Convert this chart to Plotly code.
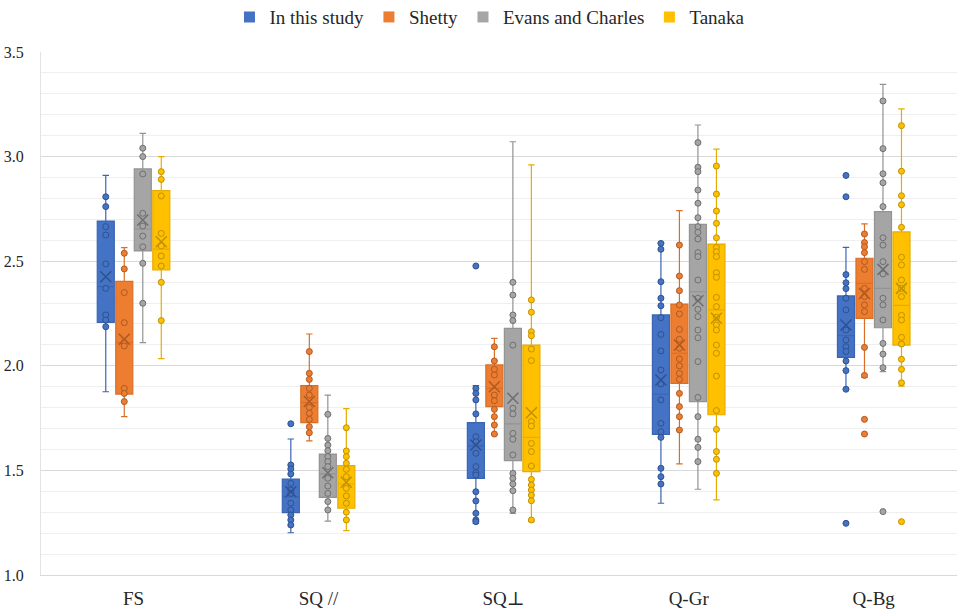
import plotly.graph_objects as go

categories = ["FS", "SQ //", "SQ\u22a5", "Q-Gr", "Q-Bg"]
series_names = ["In this study", "Shetty", "Evans and Charles", "Tanaka"]

# ---- In this study ----
study_upper = [2.910, 1.650, 1.905, 2.589, 2.566]
study_q3 = [2.692, 1.459, 1.728, 2.243, 2.334]
study_median = [2.378, 1.374, 1.617, 1.864, 2.144]
study_q1 = [2.208, 1.298, 1.462, 1.672, 2.040]
study_lower = [1.876, 1.202, 1.247, 1.343, 1.888]
study_mean = [2.426, 1.398, 1.621, 1.932, 2.195]
study_points = [
    [2.808, 2.761, 2.665, 2.625, 2.487, 2.370, 2.243, 2.219, 2.187],
    [1.723, 1.526, 1.507, 1.483, 1.438, 1.406, 1.390, 1.343, 1.311, 1.287, 1.263, 1.239],
    [2.477, 1.892, 1.868, 1.837, 1.770, 1.661, 1.637, 1.582, 1.518, 1.489, 1.478, 1.398, 1.354, 1.295, 1.263, 1.255],
    [2.585, 2.557, 2.402, 2.323, 2.287, 2.230, 2.150, 2.071, 1.980, 1.913, 1.837, 1.725, 1.685, 1.658, 1.510, 1.470, 1.435],
    [2.910, 2.808, 2.436, 2.397, 2.369, 2.323, 2.267, 2.171, 2.123, 2.091, 2.068, 2.023, 1.977, 1.888, 1.247],
]

# ---- Shetty ----
shetty_upper = [2.565, 2.152, 2.131, 2.742, 2.678]
shetty_q3 = [2.404, 1.905, 2.004, 2.295, 2.514]
shetty_median = [2.111, 1.824, 1.892, 2.060, 2.394]
shetty_q1 = [1.865, 1.728, 1.805, 1.916, 2.227]
shetty_lower = [1.757, 1.641, 1.670, 1.531, 1.945]
shetty_mean = [2.127, 1.829, 1.900, 2.099, 2.346]
shetty_points = [
    [2.538, 2.463, 2.350, 2.206, 2.111, 2.095, 1.892, 1.868, 1.829],
    [2.068, 1.964, 1.935, 1.892, 1.860, 1.801, 1.773, 1.744, 1.709, 1.680],
    [2.091, 2.023, 1.983, 1.956, 1.860, 1.833, 1.792, 1.757, 1.717, 1.674],
    [2.577, 2.429, 2.359, 2.291, 2.248, 2.174, 2.127, 2.084, 2.033, 2.000, 1.964, 1.935, 1.868, 1.805, 1.757, 1.693],
    [2.630, 2.589, 2.569, 2.541, 2.498, 2.461, 2.370, 2.331, 2.291, 2.259, 2.088, 1.954, 1.744, 1.674],
]

# ---- Evans and Charles ----
evans_upper = [3.111, 1.860, 3.071, 3.151, 3.345]
evans_q3 = [2.941, 1.578, 2.179, 2.676, 2.737]
evans_median = [2.654, 1.483, 1.722, 2.354, 2.370]
evans_q1 = [2.549, 1.371, 1.547, 1.829, 2.182]
evans_lower = [2.111, 1.258, 1.295, 1.410, 1.972]
evans_mean = [2.697, 1.489, 1.845, 2.311, 2.461]
evans_points = [
    [3.040, 3.000, 2.917, 2.729, 2.668, 2.620, 2.569, 2.490, 2.299],
    [1.768, 1.653, 1.621, 1.594, 1.566, 1.542, 1.518, 1.462, 1.425, 1.390, 1.351, 1.311],
    [2.399, 2.338, 2.243, 2.216, 2.099, 1.797, 1.770, 1.677, 1.649, 1.574, 1.486, 1.462, 1.435, 1.403, 1.311],
    [3.067, 2.949, 2.928, 2.840, 2.777, 2.708, 2.665, 2.638, 2.606, 2.541, 2.522, 2.410, 2.323, 2.270,
     2.235, 2.171, 2.134, 2.020, 1.849, 1.757, 1.649, 1.610, 1.542],
    [3.266, 3.038, 2.918, 2.875, 2.761, 2.612, 2.577, 2.498, 2.439, 2.323, 2.291, 2.219, 2.107, 2.056, 1.991, 1.303],
]

# ---- Tanaka ----
tanaka_upper = [3.000, 1.795, 2.960, 3.036, 3.228]
tanaka_q3 = [2.837, 1.523, 2.099, 2.582, 2.640]
tanaka_median = [2.558, 1.435, 1.658, 2.267, 2.289]
tanaka_q1 = [2.458, 1.319, 1.494, 1.766, 2.099]
tanaka_lower = [2.034, 1.212, 1.255, 1.359, 1.903]
tanaka_mean = [2.593, 1.443, 1.776, 2.227, 2.370]
tanaka_points = [
    [2.928, 2.891, 2.812, 2.633, 2.573, 2.525, 2.477, 2.399, 2.216],
    [1.704, 1.593, 1.566, 1.534, 1.505, 1.470, 1.414, 1.378, 1.343, 1.300, 1.263],
    [2.315, 2.256, 2.163, 2.144, 2.080, 2.025, 1.733, 1.712, 1.629, 1.590, 1.521, 1.457, 1.430, 1.406, 1.382, 1.355, 1.263],
    [2.955, 2.821, 2.740, 2.681, 2.612, 2.566, 2.545, 2.522, 2.445, 2.423, 2.327, 2.283, 2.232, 2.195,
     2.171, 2.099, 2.060, 1.951, 1.786, 1.696, 1.590, 1.553, 1.486],
    [3.148, 2.930, 2.813, 2.770, 2.662, 2.519, 2.482, 2.410, 2.370, 2.331, 2.241, 2.219, 2.136, 2.104,
     2.031, 1.983, 1.919, 1.255],
]

y_ticks = [1.0, 1.5, 2.0, 2.5, 3.0, 3.5]

# ---------------- styling ----------------
fill_colors = ["#4472C4", "#ED7D31", "#A5A5A5", "#FFC000"]
line_colors = ["#3B65B3", "#D96F27", "#939393", "#E6AD00"]
dark_colors = ["#2F528F", "#AE5A21", "#6F6F6F", "#BF9000"]
offsets = [-0.15, -0.05, 0.05, 0.15]
box_width = 0.092
FONT = '"Liberation Serif", "Times New Roman", Times, "DejaVu Serif", serif'

stats = [
    (study_q1, study_median, study_q3, study_lower, study_upper, study_mean, study_points),
    (shetty_q1, shetty_median, shetty_q3, shetty_lower, shetty_upper, shetty_mean, shetty_points),
    (evans_q1, evans_median, evans_q3, evans_lower, evans_upper, evans_mean, evans_points),
    (tanaka_q1, tanaka_median, tanaka_q3, tanaka_lower, tanaka_upper, tanaka_mean, tanaka_points),
]

fig = go.Figure()
cat_idx = list(range(len(categories)))

for s, (q1, med, q3, lo, up, mean, pts) in enumerate(stats):
    xs = [i + offsets[s] for i in cat_idx]
    fig.add_trace(go.Box(
        x=xs, q1=q1, median=med, q3=q3, lowerfence=lo, upperfence=up,
        width=box_width, whiskerwidth=0.38,
        fillcolor=fill_colors[s], line=dict(color=line_colors[s], width=1.2),
        boxpoints=False, showlegend=False, hoverinfo="skip",
    ))

for s, (q1, med, q3, lo, up, mean, pts) in enumerate(stats):
    px, py = [], []
    for i in cat_idx:
        px += [i + offsets[s]] * len(pts[i])
        py += pts[i]
    fig.add_trace(go.Scatter(
        x=px, y=py, mode="markers", showlegend=False,
        marker=dict(symbol="circle", size=6, color=fill_colors[s],
                    line=dict(color=dark_colors[s], width=1)),
    ))
    fig.add_trace(go.Scatter(
        x=[i + offsets[s] for i in cat_idx], y=mean, mode="markers", showlegend=False,
        marker=dict(symbol="x-thin", size=11, color=dark_colors[s],
                    line=dict(color=dark_colors[s], width=1.5)),
    ))

for s, name in enumerate(series_names):
    fig.add_trace(go.Scatter(
        x=[None], y=[None], mode="markers", name=name,
        marker=dict(symbol="square", size=11, color=fill_colors[s]),
    ))

fig.update_layout(
    width=957, height=610,
    margin=dict(l=41, r=0, t=52, b=35, autoexpand=False),
    paper_bgcolor="white", plot_bgcolor="white",
    font=dict(family=FONT, color="#333333"),
    legend=dict(orientation="h", xref="container", yref="container",
                x=0.512, xanchor="center", y=0.972, yanchor="middle",
                font=dict(size=19, family=FONT, color="#262626"),
                itemwidth=30, tracegroupgap=0, bgcolor="rgba(0,0,0,0)"),
    xaxis=dict(range=[-0.5, 4.45], tickmode="array", tickvals=cat_idx, ticktext=categories,
               showgrid=False, zeroline=False, showline=True, linecolor="#d9d9d9", linewidth=1,
               ticks="", tickfont=dict(size=19, family=FONT, color="#262626"),
               ticklabelstandoff=6, automargin=False),
    yaxis=dict(range=[1.0, 3.5], tickmode="array", tickvals=y_ticks, tickformat=".1f",
               showgrid=True, gridcolor="#d9d9d9", gridwidth=1,
               minor=dict(dtick=0.1, showgrid=True, gridcolor="#efefef", gridwidth=1, ticks=""),
               zeroline=False, showline=True, linecolor="#e3e3e3", linewidth=1,
               ticks="", tickfont=dict(size=16, family=FONT, color="#262626"),
               ticklabelstandoff=13, automargin=False),
)

fig.write_html("out.html", config={"displayModeBar": False},
               post_script="document.body.style.margin='0';document.body.style.overflow='hidden';")
